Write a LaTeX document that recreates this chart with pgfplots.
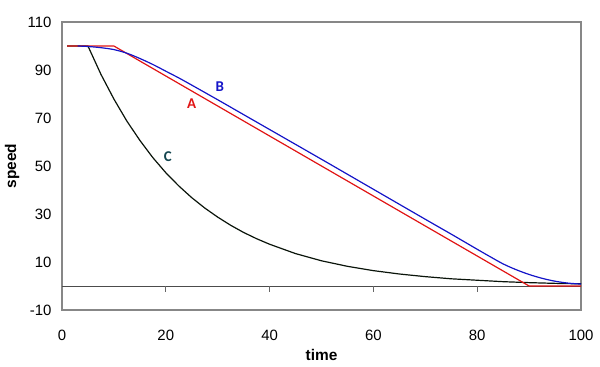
\documentclass[border=0pt]{standalone}
\usepackage{pgfplots}
\pgfplotsset{compat=1.18}
\usepackage{fontspec}
\setmainfont{Liberation Sans}
\newfontfamily\calibri{Carlito}
\definecolor{cRed}{RGB}{225,20,20}
\definecolor{cBlue}{RGB}{20,20,200}
\definecolor{cBlack}{RGB}{10,20,10}
\definecolor{cTeal}{RGB}{20,70,80}
\definecolor{cFrame}{RGB}{135,135,135}
\begin{document}
\begin{tikzpicture}
\begin{axis}[
  at={(0,0)}, anchor=south west,
  scale only axis, width=519bp, height=288bp,
  xmin=0, xmax=100, ymin=-10, ymax=110,
  xtick={0,20,...,100}, ytick={-10,10,...,110},
  major tick length=0pt,
  axis line style={cFrame, line width=1.1bp},
  /pgf/number format/assume math mode=true,
  tick label style={font=\fontsize{15}{18}\selectfont},
  xticklabel style={anchor=center, yshift=-25bp},
  yticklabel style={anchor=east, xshift=-7bp},
  xlabel={\bfseries time},
  ylabel={\bfseries speed},
  label style={font=\fontsize{15.5}{18}\selectfont},
  xlabel style={at={(axis description cs:0.5,-0.156)}, anchor=center},
  ylabel style={at={(axis description cs:-0.0963,0.5)}, anchor=center},
  clip=false,
]
\addplot[black!70, line width=0.8bp, forget plot] coordinates {(0,0) (100,0)};
\addplot[black!60, line width=1.1bp, forget plot] coordinates {(20,0) (20,-2.5)};
\addplot[black!60, line width=1.1bp, forget plot] coordinates {(40,0) (40,-2.5)};
\addplot[black!60, line width=1.1bp, forget plot] coordinates {(60,0) (60,-2.5)};
\addplot[black!60, line width=1.1bp, forget plot] coordinates {(80,0) (80,-2.5)};
% C
\addplot[cBlack, line width=1.2bp] coordinates {
(1,100) (5,100) (7.5,88.2) (10,77.9) (12.5,68.7) (15,60.7) (17.5,53.5)
(20,47.2) (22.5,41.7) (25,36.8) (27.5,32.5) (30,28.7) (32.5,25.3) (35,22.3)
(37.5,19.7) (40,17.4) (45,13.5) (50,10.5) (55,8.2) (60,6.4) (65,5.0)
(70,3.9) (75,3.0) (80,2.4) (85,1.8) (90,1.4) (95,1.1) (100,0.9)};
% A
\addplot[cRed, line width=1.2bp] coordinates {
(1,100) (10,100) (90,0) (100,0)};
% B
\addplot[cBlue, line width=1.2bp, smooth] coordinates {
(3,100) (5,99.8) (7.5,99.3) (10,98.5) (12.5,97) (15,94.8) (17.5,92.3)
(20,89.5) (22.5,86.7) (25,83.7) (30,77.6) (35,71.4) (40,65.2) (50,52.8)
(60,40.3) (70,27.8) (75,21.6) (80,15.3) (82.5,12.2) (85,9.2) (87.5,6.8)
(90,4.8) (92.5,3.2) (95,2.0) (97.5,1.2) (100,0.8)};
\node[cRed, font=\calibri\bfseries\fontsize{15}{18}\selectfont] at (axis cs:25,76) {A};
\node[cBlue, font=\calibri\bfseries\fontsize{15}{18}\selectfont] at (axis cs:30.4,83) {B};
\node[cTeal, font=\calibri\bfseries\fontsize{15}{18}\selectfont] at (axis cs:20.4,53.7) {C};
\end{axis}
\useasboundingbox (-62bp,-57bp) rectangle (538bp,310bp);
\end{tikzpicture}
\end{document}
